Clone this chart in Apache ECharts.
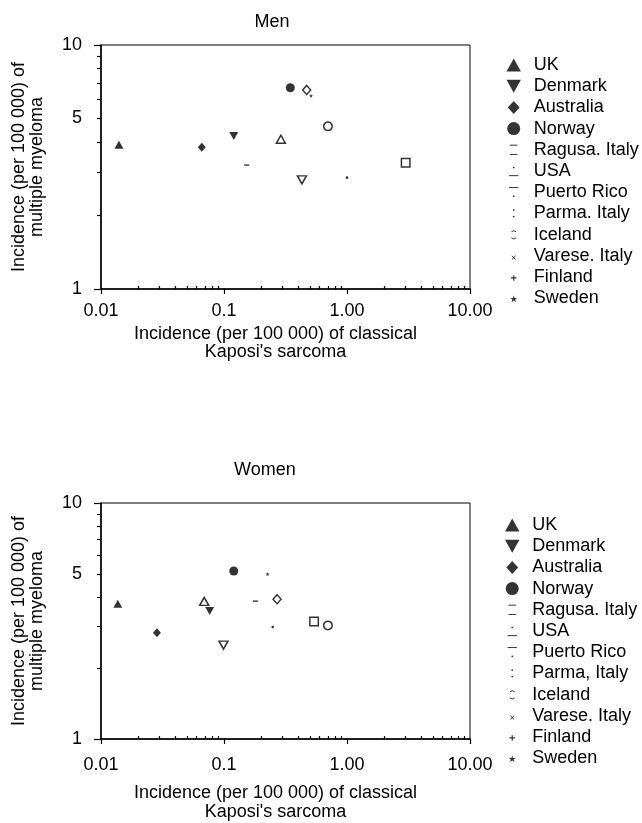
<!DOCTYPE html>
<html><head><meta charset="utf-8">
<script src="https://cdn.jsdelivr.net/npm/echarts@6/dist/echarts.min.js"></script>
<style>html,body{margin:0;padding:0;background:#fff}#c{width:642px;height:823px}</style>
</head><body><div id="c"></div>
<script>
// ---- data ----
const countriesMen = ['UK','Denmark','Australia','Norway','Ragusa. Italy','USA','Puerto Rico','Parma. Italy','Iceland','Varese. Italy','Finland','Sweden'];
const countriesWomen = ['UK','Denmark','Australia','Norway','Ragusa. Italy','USA','Puerto Rico','Parma, Italy','Iceland','Varese. Italy','Finland','Sweden'];
// incidence of classical Kaposi's sarcoma (x) and multiple myeloma (y), per 100 000
const menX   = [0.014, 0.12, 0.066, 0.346, 3.0, 0.29, 0.43, 0.47, 0.70, 0.153, 1.0, 0.51];
const menY   = [3.9, 4.24, 3.81, 6.68, 3.29, 4.11, 2.8, 6.54, 4.64, 3.22, 2.86, 6.2];
const womenX = [0.0137, 0.0765, 0.0285, 0.12, 0.54, 0.069, 0.099, 0.27, 0.70, 0.18, 0.249, 0.226];
const womenY = [3.74, 3.49, 2.82, 5.15, 3.15, 3.83, 2.50, 3.91, 3.03, 3.84, 2.98, 5.0];
const xTickValues = [0.01, 0.1, 1, 10];
const xTickLabels = ['0.01', '0.1', '1.00', '10.00'];
const yTickValues = [1, 5, 10];
const yTickLabels = ['1', '5', '10'];
const xMinorTicks = [0.02,0.03,0.04,0.05,0.06,0.07,0.08,0.09,0.2,0.3,0.4,0.5,0.6,0.7,0.8,0.9,2,3,4,5,6,7,8,9];
const yMinorTicks = [2,3,4,5,6,7,8,9];

// ---- styles ----
const FONT = 'Liberation Sans, Arial, Helvetica, sans-serif';
const TRI = 'path://M5,0 L10,9 L0,9 Z';
const INV_TRI = 'path://M0,0 L10,0 L5,9 Z';
const DIAMOND = 'path://M5,0 L10,5.5 L5,11 L0,5.5 Z';
const STAR = 'path://M5,0 L6.2,3.6 L10,3.7 L7,6 L8.1,9.6 L5,7.4 L1.9,9.6 L3,6 L0,3.7 L3.8,3.6 Z';
const filled = {color:'#000', borderWidth:0};
const open = {color:'#fff', borderColor:'#000', borderWidth:1.5};
const markers = [
  {symbol:TRI, size:[9,8], style:filled},
  {symbol:INV_TRI, size:[9,8], style:filled},
  {symbol:DIAMOND, size:[8,9], style:filled},
  {symbol:'circle', size:9, style:filled},
  {symbol:'rect', size:8.5, style:open},
  {symbol:TRI, size:[9,8], style:open},
  {symbol:INV_TRI, size:[9,8], style:open},
  {symbol:DIAMOND, size:[8,9], style:open},
  {symbol:'circle', size:8.5, style:open},
  {symbol:'rect', size:[5,1.4], style:filled},
  {symbol:'circle', size:2.6, style:filled},
  {symbol:STAR, size:4, style:filled}
];
const thin = {borderColor:'#000', borderWidth:1};
const legendIcons = [
  {icon:TRI},
  {icon:INV_TRI},
  {icon:DIAMOND},
  {icon:'circle'},
  {icon:'path://M0,0 M14,14 M3,2 L11,2 M3,12 L11,12', itemStyle:thin},
  {icon:'path://M0,0 M14,14 M6.6,3 L7.4,3 L7.4,3.8 L6.6,3.8 Z M2,12 L12,12', itemStyle:thin},
  {icon:'path://M0,0 M14,14 M2,2 L12,2 M6.6,11 L7.4,11 L7.4,11.8 L6.6,11.8 Z', itemStyle:thin},
  {icon:'path://M0,0 M14,14 M6.6,3 L7.4,3 L7.4,3.8 L6.6,3.8 Z M6.6,10 L7.4,10 L7.4,10.8 L6.6,10.8 Z', itemStyle:thin},
  {icon:'path://M0,0 M14,14 M4.5,4 Q7,1.5 9.5,4 M4.5,10.5 Q7,13 9.5,10.5', itemStyle:thin},
  {icon:'path://M0,0 M14,14 M5,7 L9,11 M9,7 L5,11', itemStyle:{color:'#000', borderColor:'#000', borderWidth:1}},
  {icon:'path://M0,0 M14,14 M7,5 L7,11 M4,8 L10,8', itemStyle:{color:'#000', borderColor:'#000', borderWidth:1.2}},
  {icon:'path://M0,0 M14,14 M7,4 L7.9,6.7 L10.8,6.8 L8.5,8.5 L9.3,11.3 L7,9.6 L4.7,11.3 L5.5,8.5 L3.2,6.8 L6.1,6.7 Z', itemStyle:{color:'#000', borderWidth:0}}
];

function xLabel(v){
  const i = xTickValues.findIndex(t => Math.abs(Math.log10(t) - Math.log10(v)) < 1e-6);
  return i >= 0 ? xTickLabels[i] : '';
}
function yLabel(v){
  const i = yTickValues.findIndex(t => Math.abs(Math.log10(t) - v) < 1e-6);
  return i >= 0 ? yTickLabels[i] : '';
}

const FS = 18;
const grids = [
  {left:101, top:45, width:369, height:244},
  {left:101, top:503, width:369, height:243}
];
const xNameCfg = [{gap:36, lh:18, margin:13}, {gap:45, lh:19, margin:17}];

const xAxes = [], yAxes = [];
grids.forEach((g, gi) => {
  xAxes.push({
    type:'log', logBase:10, gridIndex:gi, min:0.01, max:10, position:'bottom',
    name:"Incidence (per 100 000) of classical\nKaposi's sarcoma",
    nameLocation:'middle', nameGap:xNameCfg[gi].gap,
    nameTextStyle:{fontSize:FS, lineHeight:xNameCfg[gi].lh, color:'#000', fontFamily:FONT, padding:[0,20,0,0]},
    axisLine:{show:true, onZero:false, lineStyle:{color:'#000', width:1.5}},
    axisTick:{show:true, inside:false, length:5, lineStyle:{color:'#000', width:1.2}},
    axisLabel:{show:true, margin:xNameCfg[gi].margin, fontSize:FS, color:'#000', fontFamily:FONT, formatter:xLabel},
    splitLine:{show:false}, minorTick:{show:false}
  });
  xAxes.push({
    type:'value', gridIndex:gi, min:-2, max:1, position:'bottom',
    axisLine:{show:false, onZero:false},
    axisTick:{show:true, inside:true, length:3, customValues:xMinorTicks.map(Math.log10), lineStyle:{color:'#000', width:1.2}},
    axisLabel:{show:false}, splitLine:{show:false}
  });
  yAxes.push({
    type:'log', logBase:10, gridIndex:gi, min:1, max:10, position:'left',
    name:'Incidence (per 100 000) of\nmultiple myeloma',
    nameLocation:'middle', nameGap:55,
    nameTextStyle:{fontSize:FS, lineHeight:18, color:'#000', fontFamily:FONT},
    axisLine:{show:true, onZero:false, lineStyle:{color:'#000', width:1.5}},
    axisTick:{show:true, inside:false, length:7, lineStyle:{color:'#000', width:1.2}},
    axisLabel:{show:false}, splitLine:{show:false}
  });
  yAxes.push({
    type:'value', gridIndex:gi, min:0, max:1, position:'left',
    axisLine:{show:false, onZero:false},
    axisTick:{show:true, inside:false, length:4, customValues:yMinorTicks.map(Math.log10), lineStyle:{color:'#000', width:1.2}},
    axisLabel:{show:true, margin:19, fontSize:FS, color:'#000', fontFamily:FONT,
      customValues:yTickValues.map(Math.log10), formatter:yLabel},
    splitLine:{show:false}
  });
});

const series = [];
[[countriesMen, menX, menY], [countriesWomen, womenX, womenY]].forEach(([names, xs, ys], gi) => {
  names.forEach((n, i) => {
    const m = markers[i];
    series.push({
      type:'scatter', name:n, xAxisIndex:gi*2, yAxisIndex:gi*2,
      symbol:m.symbol, symbolSize:m.size, itemStyle:m.style,
      emphasis:{disabled:true}, z: 3,
      data:[[xs[i], ys[i]]]
    });
  });
});

function legendData(names){
  return names.map((n, i) => Object.assign({name:n}, legendIcons[i]));
}
const legendBase = {orient:'vertical', itemWidth:30, itemHeight:13, itemGap:3.2, padding:0,
  selectedMode:false,
  textStyle:{fontSize:FS, lineHeight:18, color:'#000', fontFamily:FONT, width:90, overflow:'none'}};

const option = {
  backgroundColor:'#fff',
  animation:false,
  textStyle:{fontFamily:FONT},
  title:[
    {text:'Men', left:254.5, top:13, padding:0, textStyle:{fontSize:FS, fontWeight:'normal', color:'#000', fontFamily:FONT}},
    {text:'Women', left:234, top:461, padding:0, textStyle:{fontSize:FS, fontWeight:'normal', color:'#000', fontFamily:FONT}}
  ],
  legend:[
    Object.assign({}, legendBase, {left:506.5, top:56, data:legendData(countriesMen)}),
    Object.assign({}, legendBase, {left:505, top:516, data:legendData(countriesWomen)})
  ],
  grid:grids.map(g => Object.assign({show:true, borderColor:'#000', borderWidth:1, containLabel:false}, g)),
  xAxis:xAxes,
  yAxis:yAxes,
  series:series
};
const chart = echarts.init(document.getElementById('c'), null, {renderer:'canvas'});
chart.setOption(option);
</script>
</body></html>
